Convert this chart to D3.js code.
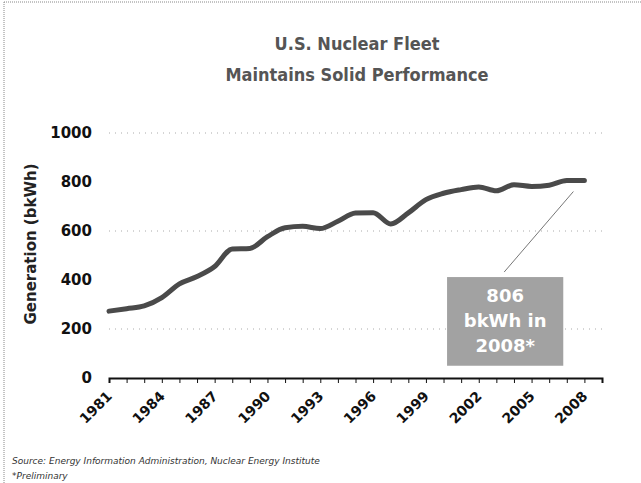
<!DOCTYPE html>
<html>
<head>
<meta charset="utf-8">
<script src="https://cdn.jsdelivr.net/npm/d3@7"></script>
<style>
  body { margin: 0; background: #fff; }
  svg { display: block; }
</style>
</head>
<body>
<div id="chart"></div>
<script>
// US nuclear generation, billion kWh
const years = [1981, 1982, 1983, 1984, 1985, 1986, 1987, 1988, 1989, 1990,
  1991, 1992, 1993, 1994, 1995, 1996, 1997, 1998, 1999, 2000,
  2001, 2002, 2003, 2004, 2005, 2006, 2007, 2008];
const generation = [273, 283, 294, 328, 384, 414, 455, 527, 529, 577,
  613, 619, 610, 640, 673, 675, 629, 674, 728, 754,
  769, 780, 764, 789, 782, 787, 806, 806];
const yTicks = [0, 200, 400, 600, 800, 1000];
const gridValues = [200, 600, 1000];
const xLabelYears = [1981, 1984, 1987, 1990, 1993, 1996, 1999, 2002, 2005, 2008];
const titleLines = ["U.S. Nuclear Fleet", "Maintains Solid Performance"];
const noteLines = ["Source: Energy Information Administration, Nuclear Energy Institute", "*Preliminary"];
const calloutLines = ["806", "bkWh in", "2008*"];

const W = 641, H = 483;
const svg = d3.select("#chart").append("svg")
  .attr("width", W).attr("height", H);

// scanned page border (top + left only visible)
svg.append("line").attr("x1", 4).attr("x2", W).attr("y1", 2).attr("y2", 2)
  .attr("stroke", "#888").attr("stroke-dasharray", "1,1");
svg.append("line").attr("x1", 4).attr("x2", 4).attr("y1", 2).attr("y2", H)
  .attr("stroke", "#888").attr("stroke-dasharray", "1,1");

const x = d3.scaleLinear().domain([1981, 2009]).range([109, 602]);
const y = d3.scaleLinear().domain([0, 1000]).range([378, 133]);

// title
svg.append("g").selectAll("text")
  .data(titleLines)
  .join("text")
  .attr("x", 357)
  .attr("y", (d, i) => 50 + i * 31)
  .attr("text-anchor", "middle")
  .attr("font-family", "DejaVu Sans Condensed, DejaVu Sans, sans-serif")
  .attr("font-weight", "bold")
  .attr("font-size", 18)
  .attr("fill", "#555")
  .text(d => d);

// gridlines
svg.append("g").selectAll("line")
  .data(gridValues)
  .join("line")
  .attr("x1", x(1981)).attr("x2", x(2009))
  .attr("y1", d => y(d)).attr("y2", d => y(d))
  .attr("stroke", "#aaa")
  .attr("stroke-dasharray", "1,5");

// y axis labels
svg.append("g")
  .attr("transform", "translate(98,0)")
  .call(d3.axisLeft(y).tickValues(yTicks).tickSize(0).tickPadding(6).tickFormat(d3.format("d")))
  .call(g => g.select(".domain").remove())
  .call(g => g.selectAll("text")
    .attr("font-family", "DejaVu Sans, Verdana, sans-serif")
    .attr("font-weight", "bold")
    .attr("font-size", 15)
    .attr("fill", "#111"));

svg.append("text")
  .attr("transform", "translate(36,244) rotate(-90)")
  .attr("text-anchor", "middle")
  .attr("font-family", "DejaVu Sans, Verdana, sans-serif")
  .attr("font-weight", "bold")
  .attr("font-size", 15)
  .attr("fill", "#222")
  .text("Generation (bkWh)");

// x axis
const xAxis = svg.append("g")
  .attr("transform", `translate(0,${y(0)})`)
  .call(d3.axisBottom(x).tickValues(d3.range(1981, 2010)).tickSize(5).tickFormat(""));
xAxis.select(".domain").attr("stroke", "#111").attr("stroke-width", 2);
xAxis.selectAll(".tick line").attr("stroke", "#111");

svg.append("g").selectAll("text")
  .data(xLabelYears)
  .join("text")
  .attr("transform", d => `translate(${x(d) + 4},${y(0) + 19}) rotate(-45)`)
  .attr("text-anchor", "end")
  .attr("font-family", "DejaVu Sans, Verdana, sans-serif")
  .attr("font-weight", "bold")
  .attr("font-size", 14)
  .attr("fill", "#111")
  .text(d => d);

// line
const pts = years.map((yr, i) => [yr, generation[i]]);
svg.append("path")
  .datum(pts)
  .attr("fill", "none")
  .attr("stroke", "#4a4a4a")
  .attr("stroke-width", 5)
  .attr("stroke-linejoin", "round")
  .attr("stroke-linecap", "round")
  .attr("d", d3.line().x(d => x(d[0])).y(d => y(d[1])).curve(d3.curveMonotoneX));

// callout
const last = pts[pts.length - 1];
const box = { x0: x(2000.2), x1: x(2006.8), y0: y(412), y1: y(50) };
svg.append("line")
  .attr("x1", (box.x0 + box.x1) / 2 - 1).attr("y1", box.y0 - 5)
  .attr("x2", x(last[0]) - 11).attr("y2", y(last[1]) + 11)
  .attr("stroke", "#777").attr("stroke-width", 1);
svg.append("rect")
  .attr("x", box.x0).attr("y", box.y0)
  .attr("width", box.x1 - box.x0).attr("height", box.y1 - box.y0)
  .attr("fill", "#a2a2a2");
svg.append("g").selectAll("text")
  .data(calloutLines)
  .join("text")
  .attr("x", (box.x0 + box.x1) / 2)
  .attr("y", (d, i) => box.y0 + 25 + i * 25)
  .attr("text-anchor", "middle")
  .attr("font-family", "DejaVu Sans, Verdana, sans-serif")
  .attr("font-weight", "bold")
  .attr("font-size", 18)
  .attr("fill", "#fff")
  .text(d => d);

// notes
svg.append("g").selectAll("text")
  .data(noteLines)
  .join("text")
  .attr("x", 12)
  .attr("y", (d, i) => 464 + i * 15)
  .attr("font-family", "DejaVu Sans, Verdana, sans-serif")
  .attr("font-style", "italic")
  .attr("font-size", 9)
  .attr("fill", "#333")
  .text(d => d);
</script>
</body>
</html>
